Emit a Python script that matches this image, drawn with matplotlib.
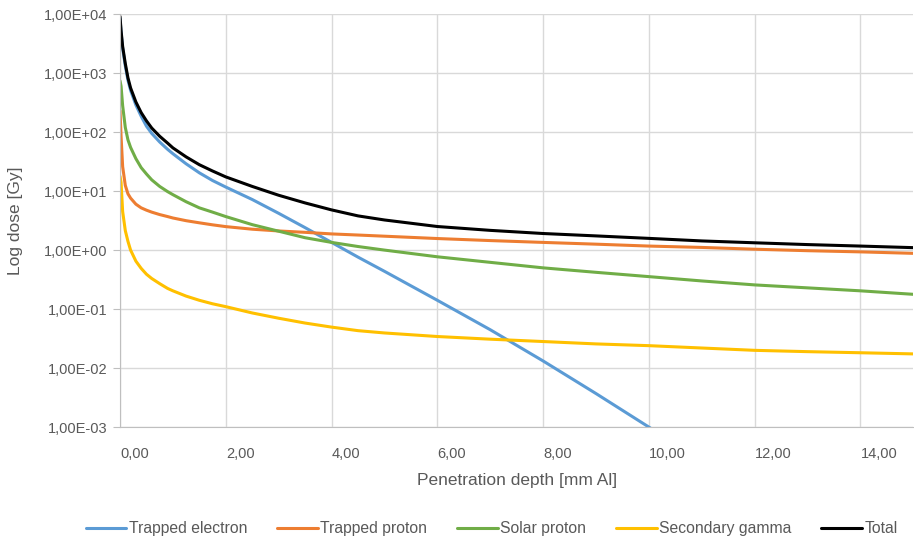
import matplotlib.pyplot as plt
from matplotlib.ticker import FixedLocator, FuncFormatter, NullLocator

plt.rcParams['font.family'] = ['Liberation Sans', 'DejaVu Sans']

# Penetration depth [mm Al]
depth = [0, 0.02, 0.05, 0.1, 0.15, 0.2, 0.3, 0.4, 0.5, 0.6, 0.75, 0.9, 1.0, 1.25, 1.5, 1.75,
         2, 2.5, 3, 3.5, 4, 4.5, 5, 6, 7, 8, 9, 10, 11, 12, 13, 14, 15]

# Dose [Gy] per source
trapped_electron = [8500, 4900, 2630, 1320, 760, 510, 288, 186, 126, 95, 68, 51, 43, 29, 20.4, 15.1,
                    11.7, 7.2, 4.2, 2.4, 1.35, 0.76, 0.437, 0.141, 0.0447, 0.0132, 0.0037, 0.0010, 0.00026]
trapped_proton = [229, 85, 26, 12.5, 9.0, 7.6, 6.0, 5.2, 4.75, 4.4, 4.0, 3.7, 3.5, 3.15, 2.9, 2.68,
                  2.5, 2.26, 2.11, 2.0, 1.88, 1.80, 1.72, 1.57, 1.45, 1.35, 1.26, 1.17, 1.11, 1.035, 0.977, 0.933, 0.881]
solar_proton = [740, 600, 280, 120, 74, 55, 35.5, 25, 19.5, 15.5, 12.0, 9.8, 8.7, 6.6, 5.2, 4.4,
                3.7, 2.7, 2.09, 1.62, 1.35, 1.15, 1.0, 0.77, 0.62, 0.50, 0.42, 0.355, 0.30, 0.257, 0.229, 0.204, 0.178]
secondary_gamma = [17.8, 14.1, 4.5, 2.14, 1.41, 1.0, 0.65, 0.49, 0.39, 0.33, 0.27, 0.224, 0.204, 0.166, 0.141, 0.123,
                   0.110, 0.086, 0.070, 0.058, 0.0495, 0.0431, 0.0394, 0.0343, 0.0309, 0.0282, 0.0257, 0.024, 0.0219, 0.020, 0.019, 0.0182, 0.0174]
total = [9100, 5250, 2820, 1450, 830, 560, 324, 214, 155, 117, 85, 65, 54, 38, 28, 21.9,
         17.4, 12.0, 8.5, 6.3, 4.8, 3.8, 3.24, 2.51, 2.16, 1.91, 1.74, 1.58, 1.43, 1.33, 1.24, 1.17, 1.10]

x_ticks = [0, 2, 4, 6, 8, 10, 12, 14]
y_ticks = [1e-3, 1e-2, 1e-1, 1e0, 1e1, 1e2, 1e3, 1e4]

series = [
    ("Trapped electron", trapped_electron, "#5B9BD5"),
    ("Trapped proton", trapped_proton, "#ED7D31"),
    ("Solar proton", solar_proton, "#70AD47"),
    ("Secondary gamma", secondary_gamma, "#FFC000"),
    ("Total", total, "#000000"),
]

fig = plt.figure(figsize=(9.14, 5.42), dpi=100)
ax = fig.add_axes([0.1313, 0.212, 0.868, 0.762])

for name, vals, col in series:
    ax.plot(depth[:len(vals)], vals, color=col, lw=2.2, label=name,
            solid_joinstyle='round', solid_capstyle='round')

ax.set_yscale('log')
ax.set_ylim(1e-3, 1e4)
ax.set_xlim(0, 15)

ax.yaxis.set_major_locator(FixedLocator(y_ticks))
ax.yaxis.set_minor_locator(NullLocator())
ax.yaxis.set_major_formatter(FuncFormatter(lambda v, p: ("%.2E" % v).replace('.', ',')))
ax.set_xticks(x_ticks)
ax.set_xticklabels(["%d,00" % t for t in x_ticks])
plt.setp(ax.get_xticklabels(), ha='left')

ax.grid(True, color='#d9d9d9', lw=1.0)
ax.set_axisbelow(True)
for s in ['top', 'right']:
    ax.spines[s].set_visible(False)
for s in ['left', 'bottom']:
    ax.spines[s].set_color('#bfbfbf')
ax.tick_params(axis='y', length=5, color='#bfbfbf', labelcolor='#595959', labelsize=10.5, pad=4)
ax.tick_params(axis='x', length=0, labelcolor='#595959', labelsize=10.5, pad=14)

ax.set_xlabel("Penetration depth [mm Al]", color='#595959', fontsize=12.5, labelpad=9)
ax.set_ylabel("Log dose [Gy]", color='#595959', fontsize=12.5)
ax.yaxis.set_label_coords(-0.122, 0.5)

fig.legend(loc='center', bbox_to_anchor=(0.538, 0.024), ncol=5, frameon=False,
           fontsize=11.3, handlelength=2.6, columnspacing=1.9, handletextpad=0.15,
           labelcolor='#595959')

fig.savefig('out.png', dpi=100)
